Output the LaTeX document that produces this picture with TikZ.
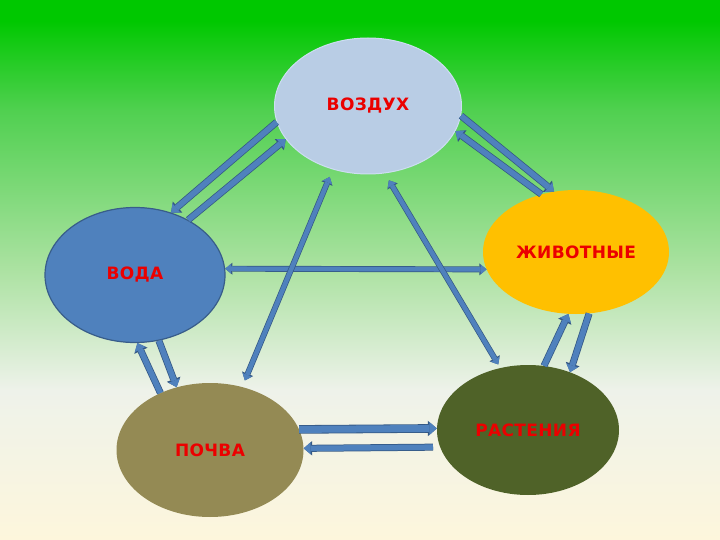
\documentclass[tikz,border=0pt]{standalone}
\usepackage{fontspec}
\setmainfont{DejaVu Sans}
\newfontfamily\labelfont{DejaVu Sans}[LetterSpace=2]
\usetikzlibrary{shapes.geometric,arrows.meta}

\definecolor{bgtop}{RGB}{0,200,0}
\definecolor{bgmid}{RGB}{80,208,80}
\definecolor{bglight}{RGB}{172,226,162}
\definecolor{bgpale}{RGB}{238,242,234}
\definecolor{bgbottom}{RGB}{253,246,220}
\definecolor{airfill}{RGB}{185,205,229}
\definecolor{airedge}{RGB}{205,222,242}
\definecolor{waterfill}{RGB}{79,129,189}
\definecolor{wateredge}{RGB}{56,93,138}
\definecolor{animalfill}{RGB}{255,192,0}
\definecolor{soilfill}{RGB}{148,138,84}
\definecolor{plantfill}{RGB}{79,98,40}
\definecolor{arrowfill}{RGB}{79,129,189}
\definecolor{arrowedge}{RGB}{52,88,132}
\definecolor{labelred}{RGB}{235,0,0}

\pgfdeclareverticalshading{backdrop}{100bp}{color(0bp)=(bgbottom); color(25bp)=(bgbottom); color(38.9bp)=(bgpale); color(50bp)=(bglight); color(64.8bp)=(bgmid); color(73.1bp)=(bgtop); color(100bp)=(bgtop)}

\tikzset{
  sphere/.style={ellipse, inner sep=0pt, font=\labelfont\bfseries\fontsize{17}{20}\selectfont, text=labelred},
  fin/.tip={Triangle[length=7pt,width=12pt,line width=0pt]},
  fout/.tip={Triangle[length=8.5pt,width=14.5pt,line width=0pt]},
  bin/.tip={Triangle[length=7.5pt,width=13pt,line width=0pt]},
  bout/.tip={Triangle[length=9pt,width=15.5pt,line width=0pt]},
  sin/.tip={Triangle[length=6pt,width=10pt,line width=0pt]},
  sout/.tip={Triangle[length=7.2pt,width=12pt,line width=0pt]},
  flow/.style={draw=arrowfill, line width=5.5pt, arrows={-fin},
    preaction={draw=arrowedge, line width=7pt, arrows={-fout}}},
  broad/.style={draw=arrowfill, line width=7pt, arrows={-bin},
    preaction={draw=arrowedge, line width=8.6pt, arrows={-bout}}},
  slim/.style={draw=arrowfill, line width=4.5pt, arrows={sin-sin},
    preaction={draw=arrowedge, line width=5.9pt, arrows={sout-sout}}}
}

\begin{document}
\begin{tikzpicture}[x=1pt,y=-1pt]
  \shade[shading=backdrop] (0,0) rectangle (720,540);
  \node[sphere, fill=airfill, draw=airedge, line width=1pt, minimum width=187pt, minimum height=136pt] (air) at (368,106) {ВОЗДУХ};
  \node[sphere, fill=animalfill, minimum width=186pt, minimum height=124pt] (animals) at (576,252) {ЖИВОТНЫЕ};
  \node[sphere, fill=waterfill, draw=wateredge, line width=1.2pt, minimum width=180pt, minimum height=135pt] (water) at (135,275) {ВОДА};
  \node[sphere, fill=soilfill, minimum width=187pt, minimum height=134pt] (soil) at (210,450) {ПОЧВА};
  \node[sphere, fill=plantfill, minimum width=182pt, minimum height=130pt] (plants) at (528,430) {РАСТЕНИЯ};

  \draw[flow] (air.190) -- (water.60);
  \draw[flow] (water.46) -- (air.202);
  \draw[flow] (air.354) -- (animals.110);
  \draw[flow] (animals.121) -- (air.344);
  \draw[slim] (water.4) -- (animals.191);
  \draw[slim, shorten <=7pt, shorten >=8pt] (soil.63) -- (air.241);
  \draw[slim, shorten <=8pt, shorten >=4pt] (air.284) -- (plants.114);
  \draw[flow] (water.290) -- (soil.118);
  \draw[flow] (soil.131) -- (water.272);
  \draw[flow] (plants.76) -- (animals.263);
  \draw[flow] (animals.282) -- (plants.54);
  \draw[broad] (soil.13) -- (plants.179);
  \draw[flow, shorten <=7pt] (plants.191) -- (soil.1);
\end{tikzpicture}
\end{document}
